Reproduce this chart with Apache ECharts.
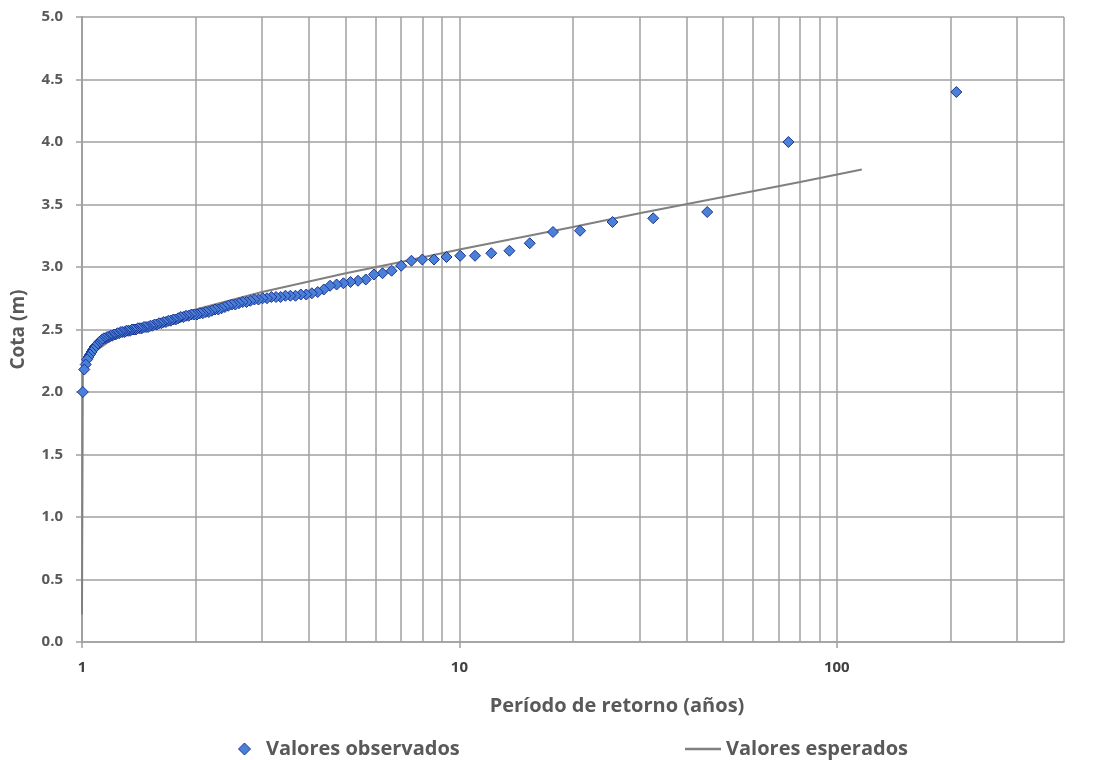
<!DOCTYPE html>
<html>
<head>
<meta charset="utf-8">
<script src="https://cdn.jsdelivr.net/npm/echarts@6/dist/echarts.min.js"></script>
<style>
html,body{margin:0;padding:0;background:#fff;}
#chart{width:1096px;height:760px;}
</style>
</head>
<body>
<div id="chart"></div>
<script>
// Observed values: return period (years) and water level (m)
var obsT = [207.4, 74.44, 45.36, 32.62, 25.46, 20.88, 17.70, 15.36, 13.57, 12.15,
  11.00, 10.05, 9.245, 8.563, 7.975, 7.463, 7.012, 6.613, 6.256, 5.937,
  5.648, 5.386, 5.147, 4.929, 4.728, 4.543, 4.372, 4.213, 4.066, 3.928,
  3.800, 3.679, 3.566, 3.460, 3.360, 3.266, 3.176, 3.092, 3.011, 2.935,
  2.863, 2.794, 2.728, 2.666, 2.606, 2.549, 2.494, 2.442, 2.391, 2.343,
  2.297, 2.252, 2.209, 2.168, 2.128, 2.090, 2.053, 2.017, 1.983, 1.950,
  1.917, 1.886, 1.856, 1.827, 1.799, 1.771, 1.745, 1.719, 1.694, 1.669,
  1.646, 1.623, 1.600, 1.579, 1.557, 1.537, 1.517, 1.497, 1.478, 1.460,
  1.441, 1.424, 1.406, 1.390, 1.373, 1.357, 1.342, 1.326, 1.311, 1.297,
  1.282, 1.268, 1.255, 1.241, 1.228, 1.215, 1.203, 1.190, 1.178, 1.166,
  1.155, 1.143, 1.132, 1.121, 1.111, 1.100, 1.090, 1.080, 1.070, 1.060,
  1.050, 1.041, 1.032, 1.023, 1.014, 1.005];
var obsY = [4.40, 4.00, 3.44, 3.39, 3.36, 3.29, 3.28, 3.19, 3.13, 3.11,
  3.09, 3.09, 3.08, 3.06, 3.06, 3.05, 3.01, 2.97, 2.95, 2.94,
  2.90, 2.89, 2.88, 2.87, 2.86, 2.85, 2.82, 2.80, 2.79, 2.78,
  2.78, 2.77, 2.77, 2.77, 2.76, 2.76, 2.76, 2.75, 2.75, 2.74,
  2.74, 2.73, 2.72, 2.72, 2.71, 2.70, 2.70, 2.69, 2.68, 2.67,
  2.66, 2.66, 2.65, 2.64, 2.64, 2.63, 2.63, 2.62, 2.62, 2.62,
  2.61, 2.61, 2.60, 2.60, 2.59, 2.58, 2.58, 2.57, 2.57, 2.56,
  2.56, 2.55, 2.55, 2.54, 2.54, 2.53, 2.53, 2.52, 2.52, 2.52,
  2.51, 2.51, 2.51, 2.50, 2.50, 2.50, 2.49, 2.49, 2.49, 2.48,
  2.48, 2.48, 2.47, 2.47, 2.46, 2.46, 2.45, 2.45, 2.44, 2.44,
  2.43, 2.43, 2.42, 2.41, 2.40, 2.38, 2.37, 2.36, 2.34, 2.32,
  2.30, 2.28, 2.26, 2.22, 2.18, 2.00];

// Expected values (fitted curve)
var expT = [1, 1.005, 1.01, 1.02, 1.05, 1.1, 1.2, 1.3, 1.5, 1.7, 2, 3, 5, 7, 10, 20, 30, 50, 80, 116.5];
var expY = [0.22, 2.14, 2.17, 2.22, 2.28, 2.34, 2.42, 2.47, 2.54, 2.60, 2.66, 2.80, 2.95, 3.04, 3.14, 3.32, 3.43, 3.56, 3.68, 3.78];

// Axis ticks / gridlines
var xMajorLabels = [1, 10, 100];
var xMinorGrid = [2, 3, 4, 5, 6, 7, 8, 9, 20, 30, 40, 50, 60, 70, 80, 90, 200, 300, 400];
var seriesNames = ['Valores observados', 'Valores esperados'];

var FONT = 'Open Sans';
var TXT = '#595959';
var GRID = '#a0a0a0';

var obsData = obsT.map(function (t, i) { return [t, obsY[i]]; });
var expData = expT.map(function (t, i) { return [t, expY[i]]; });

var chart = echarts.init(document.getElementById('chart'), null, {renderer: 'canvas'});
chart.setOption({
  animation: false,
  backgroundColor: '#ffffff',
  grid: {left: 82, right: 32, top: 17, bottom: 118, containLabel: false, outerBoundsMode: 'none'},
  legend: [{
    data: [seriesNames[0]],
    left: 233, top: 734,
    icon: 'diamond', itemWidth: 12, itemHeight: 12,
    formatter: function (n) { return '  ' + n; },
    textStyle: {fontFamily: FONT, fontWeight: 'bold', fontSize: 20, color: TXT},
    itemStyle: {color: '#4a80d6', borderColor: '#1c3399', borderWidth: 1}
  }, {
    data: [seriesNames[1]],
    left: 680, top: 734,
    icon: 'rect', itemWidth: 36, itemHeight: 2.5,
    textStyle: {fontFamily: FONT, fontWeight: 'bold', fontSize: 20, color: TXT}
  }],
  xAxis: {
    type: 'log', logBase: 10, min: 1, max: 400,
    name: 'Período de retorno (años)',
    nameLocation: 'middle', nameGap: 54,
    nameTextStyle: {fontFamily: FONT, fontWeight: 'bold', fontSize: 20, color: TXT, padding: [0, 0, 0, 88]},
    axisLine: {show: true, lineStyle: {color: GRID, width: 1.5}},
    axisTick: {show: true, length: 6, lineStyle: {color: GRID, width: 1.5}, customValues: xMajorLabels},
    axisLabel: {
      fontFamily: FONT, fontWeight: 'bold', fontSize: 15, color: '#404040', margin: 18,
      customValues: xMajorLabels,
      formatter: function (v) { return xMajorLabels.indexOf(Math.round(v)) >= 0 && Math.abs(v - Math.round(v)) < 1e-6 ? String(Math.round(v)) : ''; }
    },
    splitLine: {show: true, lineStyle: {color: GRID, width: 1.5}},
    minorTick: {show: false},
    minorSplitLine: {show: false}
  },
  yAxis: {
    type: 'value', min: 0, max: 5, interval: 0.5,
    name: 'Cota (m)',
    nameLocation: 'middle', nameGap: 54, nameRotate: 90,
    nameTextStyle: {fontFamily: FONT, fontWeight: 'bold', fontSize: 19, color: TXT},
    axisLine: {show: true, lineStyle: {color: GRID, width: 2}},
    axisTick: {show: true, length: 6, lineStyle: {color: GRID, width: 1.5}},
    axisLabel: {
      fontFamily: FONT, fontWeight: 'bold', fontSize: 15, color: TXT, margin: 19,
      formatter: function (v) { return v.toFixed(1); }
    },
    splitLine: {show: true, lineStyle: {color: GRID, width: 1.5}}
  },
  series: [{
    name: seriesNames[1],
    type: 'line',
    data: expData,
    showSymbol: false,
    symbol: 'none',
    z: 2,
    color: '#808080',
    lineStyle: {color: '#808080', width: 2},
    markLine: {
      silent: true, symbol: 'none', animation: false,
      label: {show: false},
      lineStyle: {color: GRID, width: 1.5, type: 'solid'},
      data: xMinorGrid.map(function (v) { return {xAxis: v}; }),
      z: 1
    }
  }, {
    name: seriesNames[0],
    type: 'scatter',
    data: obsData,
    symbol: 'diamond',
    symbolSize: 11,
    z: 5,
    itemStyle: {color: '#4a80d6', borderColor: '#1c3399', borderWidth: 1, opacity: 1}
  }]
});
</script>
</body>
</html>
